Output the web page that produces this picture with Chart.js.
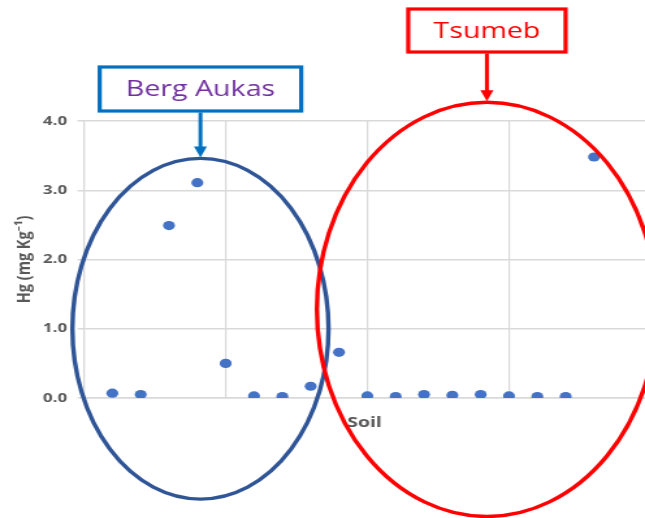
<!DOCTYPE html>
<html>
<head>
<meta charset="utf-8">
<script src="https://cdn.jsdelivr.net/npm/chart.js@4.4.1/dist/chart.umd.min.js"></script>
<style>
  html, body { margin: 0; padding: 0; background: #ffffff; overflow: hidden; }
  #hgChart { display: block; }
</style>
</head>
<body>
<!-- drawing buffer is narrower than the displayed box, so the plot is widened horizontally -->
<canvas id="hgChart" width="496" height="518" style="width:645px;height:518px"></canvas>
<script>
// Sample sequence numbers (soil samples) and their mercury content
const sampleNo = [1, 2, 3, 4, 5, 6, 7, 8, 9, 10, 11, 12, 13, 14, 15, 16, 17, 18];
const hgValues = [0.07, 0.05, 2.49, 3.11, 0.50, 0.03, 0.02, 0.17, 0.66,
                  0.03, 0.02, 0.05, 0.04, 0.05, 0.03, 0.02, 0.02, 3.48];
const xGridValues = [0, 5, 10, 15];
const yTickValues = [0, 1, 2, 3, 4];
const siteNames = ['Berg Aukas', 'Tsumeb'];

const axisGrey = '#595959';
const gridGrey = '#d9d9d9';

// Site groupings: ellipse in data units, label box in canvas pixels
const siteMarks = [
  { name: siteNames[0], cx: 4.11, cy: 1.00, rx: 4.52, ry: 2.46,
    ring: '#2F5597', frame: '#0070C0', text: '#7030A0',
    boxW: 155, boxTop: 67, boxBottom: 111 },
  { name: siteNames[1], cx: 14.22, cy: 1.28, rx: 6.0, ry: 2.99,
    ring: '#FF0000', frame: '#FF0000', text: '#FF0000',
    boxW: 121, boxTop: 9, boxBottom: 52 }
];

const siteAnnotations = {
  id: 'siteAnnotations',
  afterDraw(chart) {
    const ctx = chart.ctx;
    const xs = chart.scales.x, ys = chart.scales.y;
    ctx.save();
    siteMarks.forEach(m => {
      const cx = xs.getPixelForValue(m.cx);
      const cy = ys.getPixelForValue(m.cy);
      const rx = xs.getPixelForValue(m.cx + m.rx) - cx;
      const ry = cy - ys.getPixelForValue(m.cy + m.ry);

      // grouping ellipse
      ctx.beginPath();
      ctx.ellipse(cx, cy, rx, ry, 0, 0, Math.PI * 2);
      ctx.strokeStyle = m.ring;
      ctx.lineWidth = 3.4;
      ctx.stroke();

      // label box
      const bx = cx - m.boxW / 2;
      ctx.strokeStyle = m.frame;
      ctx.lineWidth = 3.2;
      ctx.fillStyle = '#ffffff';
      ctx.fillRect(bx, m.boxTop, m.boxW, m.boxBottom - m.boxTop);
      ctx.strokeRect(bx, m.boxTop, m.boxW, m.boxBottom - m.boxTop);

      // arrow from box down to ellipse
      const tip = cy - ry - 1;
      const headLen = 11, headHalf = 5;
      ctx.beginPath();
      ctx.moveTo(cx, m.boxBottom + 1.5);
      ctx.lineTo(cx, tip - headLen + 1);
      ctx.lineWidth = 3;
      ctx.stroke();
      ctx.beginPath();
      ctx.moveTo(cx - headHalf, tip - headLen);
      ctx.lineTo(cx + headHalf, tip - headLen);
      ctx.lineTo(cx, tip);
      ctx.closePath();
      ctx.fillStyle = m.frame;
      ctx.fill();

      // label text
      ctx.fillStyle = m.text;
      ctx.font = '22px "Open Sans", "Noto Sans", sans-serif';
      ctx.textAlign = 'center';
      ctx.textBaseline = 'middle';
      ctx.fillText(m.name, cx, (m.boxTop + m.boxBottom) / 2 + 1);
    });
    ctx.restore();
  }
};

new Chart(document.getElementById('hgChart'), {
  type: 'scatter',
  data: {
    datasets: [{
      label: 'Hg',
      data: sampleNo.map((n, i) => ({ x: n, y: hgValues[i] })),
      backgroundColor: '#4472C4',
      borderColor: '#4472C4',
      borderWidth: 0,
      pointRadius: 4.6,
      pointHoverRadius: 4.6
    }]
  },
  options: {
    responsive: false,
    animation: false,
    events: [],
    layout: { autoPadding: false, padding: { top: 121, right: 0, bottom: 0, left: 0 } },
    plugins: {
      legend: { display: false },
      tooltip: { enabled: false }
    },
    scales: {
      x: {
        type: 'linear',
        min: 0,
        max: 19.8,
        afterFit: s => { s.height = 120; },
        afterBuildTicks: s => { s.ticks = xGridValues.map(v => ({ value: v })); },
        ticks: { display: false },
        grid: { color: gridGrey, lineWidth: 1.2, drawTicks: false },
        border: { display: true, color: gridGrey, width: 1.5 },
        title: {
          display: true,
          text: 'Soil',
          color: axisGrey,
          font: { family: '"Open Sans", "Noto Sans", sans-serif', size: 15, weight: 'bold' },
          padding: { top: 0, bottom: 86 }
        }
      },
      y: {
        min: 0,
        max: 4,
        afterFit: s => { s.width = 64.6; },
        afterBuildTicks: s => { s.ticks = yTickValues.map(v => ({ value: v })); },
        ticks: {
          color: axisGrey,
          padding: 8,
          font: { family: '"Open Sans", "Noto Sans", sans-serif', size: 13, weight: 'bold' },
          callback: v => Number(v).toFixed(1)
        },
        grid: { color: gridGrey, lineWidth: 1.5, tickLength: 5 },
        border: { display: true, color: gridGrey, width: 1.2 },
        title: {
          display: true,
          text: 'Hg (mg Kg⁻¹)',
          color: axisGrey,
          font: { family: '"Open Sans", "Noto Sans", sans-serif', size: 14.5, weight: 'bold' },
          padding: { top: 10.5, bottom: 0 }
        }
      }
    }
  },
  plugins: [siteAnnotations]
});
</script>
</body>
</html>
